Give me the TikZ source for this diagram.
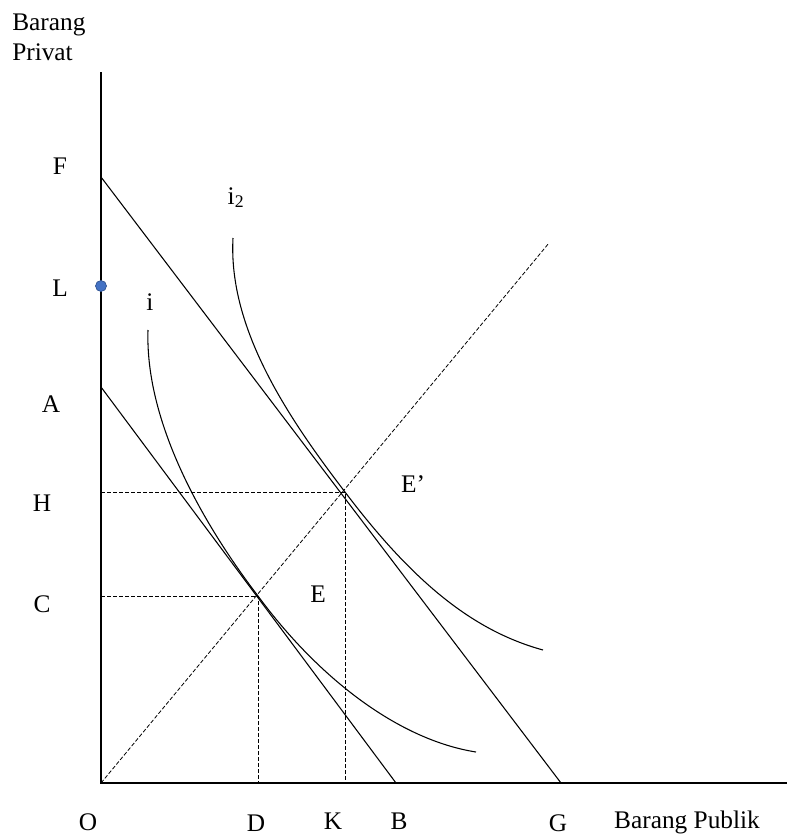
\documentclass[tikz,border=0pt]{standalone}
\usepackage{fontspec}
\setmainfont{Liberation Serif}
\begin{document}
\begin{tikzpicture}[x=0.75pt,y=-0.75pt,
  lbl/.style={font=\fontsize{19}{22}\selectfont, inner sep=0pt, anchor=base},
  axisline/.style={line width=1.4pt},
  thinline/.style={line width=0.8pt},
  guide/.style={line width=0.6pt, dash pattern=on 3pt off 1.5pt}]
\useasboundingbox (0,0) rectangle (787,836);
% points
\coordinate (O) at (101,783);
\coordinate (Ytop) at (101,72);
\coordinate (Xend) at (787,783);
\coordinate (Fp) at (101,177);
\coordinate (Gp) at (561,783);
\coordinate (Ap) at (101,387);
\coordinate (Bp) at (396,783);
\coordinate (Dend) at (549,243);
\coordinate (Ep) at (258,596);
\coordinate (Epp) at (345,492);
\coordinate (Cp) at (101,596);
\coordinate (Hp) at (101,492);
\coordinate (Dp) at (258,783);
\coordinate (Kp) at (345,783);
\coordinate (Lp) at (101,286);
% axes
\draw[axisline] (Ytop) -- (O) -- (Xend);
% budget lines
\draw[thinline] (Fp) -- (Gp);
\draw[thinline] (Ap) -- (Bp);
% diagonal
\draw[guide] (O) -- (Dend);
% guide lines
\draw[guide] (Hp) -- (Epp) -- (Kp);
\draw[guide] (Cp) -- (Ep) -- (Dp);
% indifference curves
\draw[thinline] (148,330) .. controls (145,420) and (200,520) .. (Ep)
  .. controls (320,680) and (400,740) .. (476,752);
\draw[thinline] (233,238) .. controls (228,330) and (290,420) .. (Epp)
  .. controls (410,578) and (470,630) .. (543,650);
% dot
\fill[fill={rgb,255:red,68;green,114;blue,196}, draw={rgb,255:red,47;green,82;blue,143}, line width=0.5pt] (Lp) circle (5.5);
% labels
\node[lbl, anchor=base west] (bp1) at (12,30) {Barang};
\node[lbl, anchor=base west] (bp2) at (12,60) {Privat};
\node[lbl] (lF) at (60,174) {F};
\node[lbl] (lL) at (60,296) {L};
\node[lbl] (lA) at (51,412) {A};
\node[lbl] (lH) at (42,511) {H};
\node[lbl] (lC) at (42,612) {C};
\node[lbl] (lO) at (88,830) {O};
\node[lbl] (lD) at (256,831) {D};
\node[lbl] (lK) at (333,829) {K};
\node[lbl] (lB) at (399,829) {B};
\node[lbl] (lG) at (558,831) {G};
\node[lbl] (lX) at (687,828) {Barang Publik};
\node[lbl] (li2) at (236,204) {i\textsubscript{2}};
\node[lbl] (li) at (150,310) {i};
\node[lbl] (lEp) at (413,492) {E’};
\node[lbl] (lE) at (318,602) {E};
\end{tikzpicture}
\end{document}
